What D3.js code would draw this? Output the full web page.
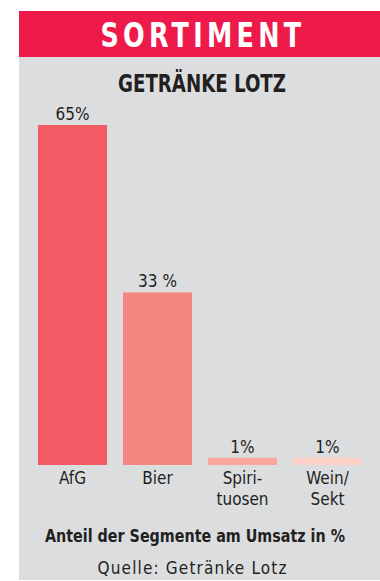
<!DOCTYPE html>
<html>
<head>
<meta charset="utf-8">
<script src="https://cdn.jsdelivr.net/npm/d3@7"></script>
<style>
  body { margin: 0; background: #fff; }
  svg { display: block; }
  text { font-family: "DejaVu Sans Condensed", "Liberation Sans Narrow", sans-serif; fill: #231f20; }
</style>
</head>
<body>
<svg id="chart" width="380" height="581"></svg>
<script>
// data
const categories = ["AfG", "Bier", "Spiri-\ntuosen", "Wein/\nSekt"];
const values = [65, 33, 1, 1];
const valueLabels = ["65%", "33 %", "1%", "1%"];
const barColors = ["#f25a64", "#f48880", "#f9a79c", "#fcd2c8"];

const svg = d3.select("#chart");

// background panel + header
svg.append("rect").attr("x", 19).attr("y", 57).attr("width", 361).attr("height", 523).attr("fill", "#dcdddf");
svg.append("rect").attr("x", 19).attr("y", 11).attr("width", 361).attr("height", 46).attr("fill", "#ee1a4a");

svg.append("text")
  .attr("x", 203).attr("y", 47)
  .attr("text-anchor", "middle")
  .attr("textLength", 205).attr("lengthAdjust", "spacingAndGlyphs")
  .style("font-size", "33px").style("font-weight", "bold")
  .style("letter-spacing", "5px")
  .style("fill", "#fff")
  .text("SORTIMENT");

svg.append("text")
  .attr("x", 202).attr("y", 92)
  .attr("text-anchor", "middle")
  .attr("textLength", 168).attr("lengthAdjust", "spacingAndGlyphs")
  .style("font-size", "24px").style("font-weight", "bold")
  .text("GETRÄNKE LOTZ");

// scales
const x = d3.scaleBand()
  .domain(categories)
  .range([38, 38 + 85 * 3 + 69])
  .paddingInner(16 / 85)
  .paddingOuter(0);

const y = d3.scaleLinear().domain([0, 65]).range([465, 125]);

const g = svg.append("g");

// 1% bars get a couple of extra pixels like in the print
g.selectAll("rect.bar")
  .data(values)
  .enter().append("rect")
  .attr("class", "bar")
  .attr("x", (d, i) => x(categories[i]))
  .attr("width", x.bandwidth())
  .attr("y", (d, i) => y(d) - (d < 2 ? 2 : 0))
  .attr("height", d => y(0) - y(d) + (d < 2 ? 2 : 0))
  .attr("fill", (d, i) => barColors[i]);

g.selectAll("text.val")
  .data(values)
  .enter().append("text")
  .attr("class", "val")
  .attr("x", (d, i) => x(categories[i]) + x.bandwidth() / 2)
  .attr("y", d => y(d) - (d < 2 ? 2 : 0) - 5)
  .attr("text-anchor", "middle")
  .style("font-size", "17px")
  .text((d, i) => valueLabels[i]);

// category labels
categories.forEach(function (c) {
  const lines = c.split("\n");
  const t = g.append("text")
    .attr("x", x(c) + x.bandwidth() / 2)
    .attr("y", 484)
    .attr("text-anchor", "middle")
    .style("font-size", "17px");
  lines.forEach(function (l, j) {
    t.append("tspan")
      .attr("x", x(c) + x.bandwidth() / 2)
      .attr("dy", j === 0 ? 0 : 21)
      .text(l);
  });
});

// footer
svg.append("text")
  .attr("x", 195).attr("y", 542)
  .attr("text-anchor", "middle")
  .attr("textLength", 300).attr("lengthAdjust", "spacingAndGlyphs")
  .style("font-size", "17px").style("font-weight", "bold")
  .text("Anteil der Segmente am Umsatz in %");

svg.append("text")
  .attr("x", 192).attr("y", 574)
  .attr("text-anchor", "middle")
  .attr("textLength", 189)
  .style("font-size", "17px")
  .text("Quelle: Getränke Lotz");
</script>
</body>
</html>
